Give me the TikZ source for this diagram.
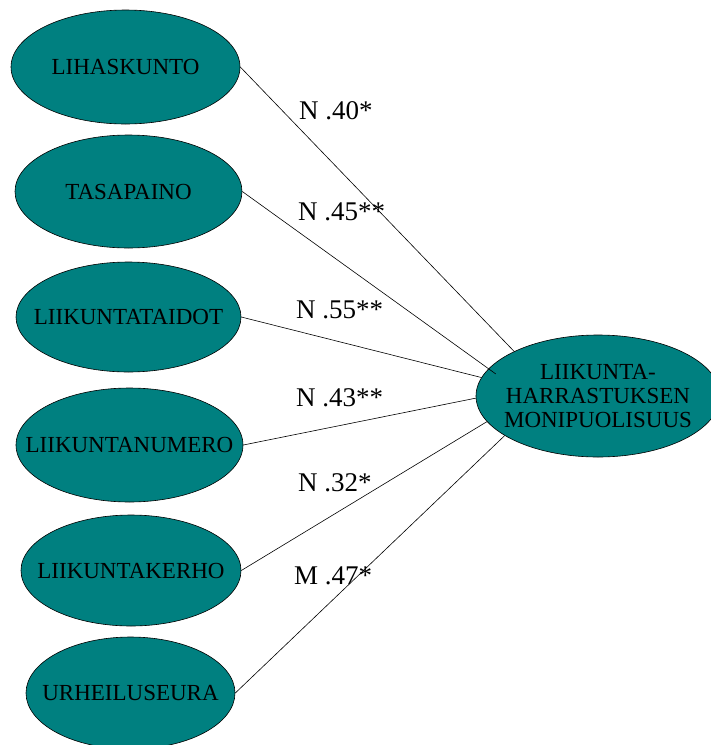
\documentclass[tikz,border=0pt]{standalone}
\usepackage{fontspec}
\setmainfont{Liberation Serif}
\usetikzlibrary{positioning,shapes.geometric}
\definecolor{tealfill}{RGB}{0,128,128}

\begin{document}
\begin{tikzpicture}[
  x=1pt, y=-1pt,
  font=\fontsize{23}{24}\selectfont,
  var/.style={draw, ellipse, fill=tealfill, line width=0.6pt,
              inner xsep=-80pt, inner ysep=0pt, align=center,
              minimum width=227pt, minimum height=113pt},
  coef/.style={anchor=base west, inner sep=0pt, font=\fontsize{27}{28}\selectfont},
  link/.style={line width=0.6pt},
]
\useasboundingbox (0,0) rectangle (711,745);

% Explanatory variables
\node[var, minimum width=229pt, minimum height=114pt] (lihas) at (125.5,67) {LIHASKUNTO};
\node[var] (tasa) at (128.5,191.5) {TASAPAINO};
\node[var, minimum width=225pt, minimum height=110pt] (taidot) at (128.5,317) {LIIKUNTATAIDOT};
\node[var, minimum height=114pt] (numero) at (129.5,445) {LIIKUNTANUMERO};
\node[var, minimum width=220pt, minimum height=111pt] (kerho) at (131,570.5) {LIIKUNTAKERHO};
\node[var, minimum width=209pt, minimum height=112pt] (seura) at (130.5,693) {URHEILUSEURA};

% Outcome
\node[var, minimum width=244pt, minimum height=122pt] (monip) at (598,396)
      {LIIKUNTA-\\HARRASTUKSEN\\MONIPUOLISUUS};

% Connections
\draw[link] (lihas.east) -- (monip.152.6);
\draw[link, shorten >=-9pt] (tasa.east) -- (monip.166.4);
\draw[link] (taidot.east) -- (monip.171.4);
\draw[link] (numero.east) -- (monip.181.4);
\draw[link] (kerho.east) -- (monip.193.6);
\draw[link] (seura.east) -- (monip.203.6);

% Coefficients
\node[coef] (c_lihas)  at (299,119) {N .40*};
\node[coef] (c_tasa)   at (298,220) {N .45**};
\node[coef] (c_taidot) at (296,318) {N .55**};
\node[coef] (c_numero) at (296,406) {N .43**};
\node[coef] (c_kerho)  at (298,491) {N .32*};
\node[coef] (c_seura)  at (294,584) {M .47*};
\end{tikzpicture}
\end{document}
